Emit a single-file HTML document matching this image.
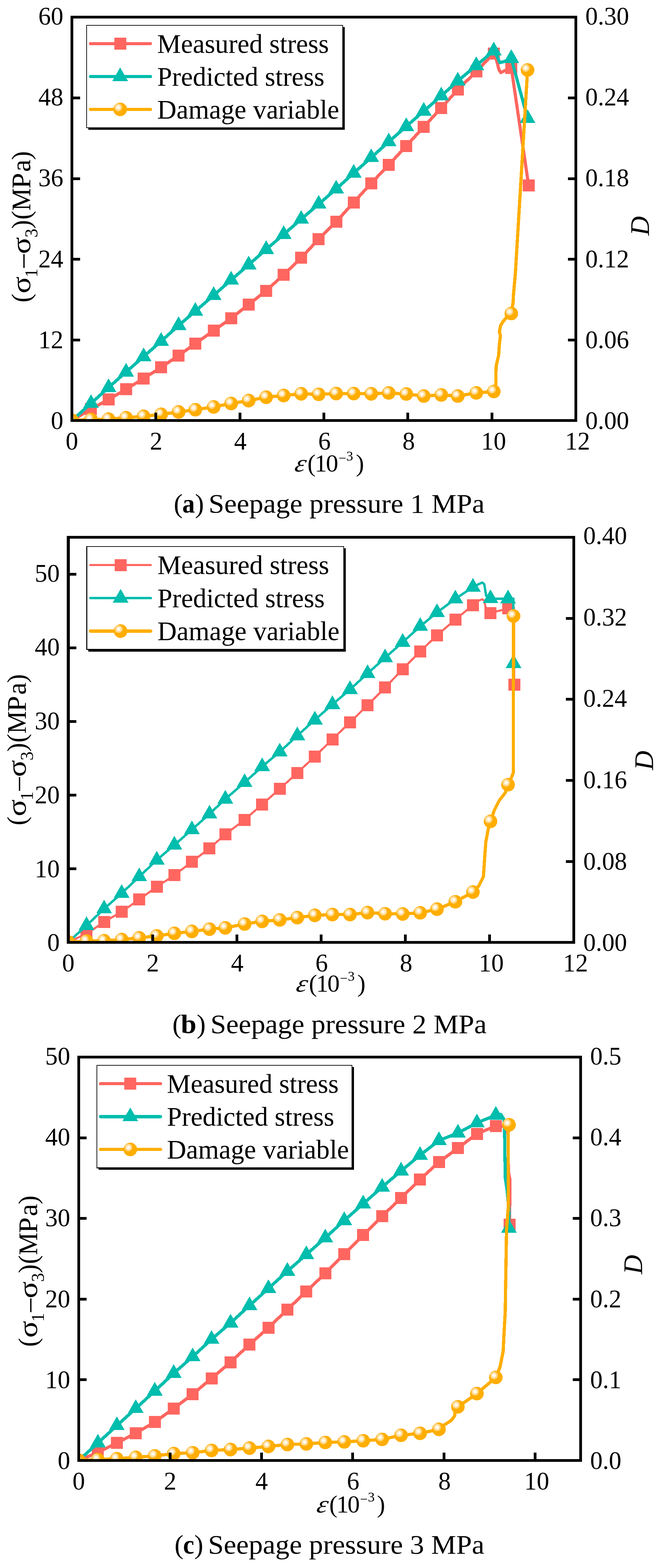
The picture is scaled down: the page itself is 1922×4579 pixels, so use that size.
<!DOCTYPE html>
<html lang="en">
<head>
<meta charset="utf-8">
<title>Stress-strain curves and damage variable under different seepage pressures</title>
<style>
html,body{margin:0;padding:0;background:#fff;}
body{width:1922px;height:4579px;overflow:hidden;}
svg{display:block;}
text{font-family:'Liberation Serif', 'DejaVu Serif', serif;fill:#000;}
.tk text{font-size:73px;}
.lg{font-size:78.2px;}
</style>
</head>
<body>
<svg width="1922" height="4579" viewBox="0 0 1922 4579" shape-rendering="crispEdges">
<rect width="1922" height="4579" fill="#fff"/>
<g id="chart-a">
<clipPath id="clip-a"><rect x="210" y="50" width="1472" height="1178"/></clipPath>
<g clip-path="url(#clip-a)">
<g fill="#FF6660">
<polyline points="210.5,1227.6 265.9,1194.5 317.1,1166.8 368.2,1136.7 419.4,1105.3 470.6,1072.9 521.7,1038.2 570.6,1003.5 624,965.6 675.1,929.5 726.3,889.3 777.5,849 828.6,802.3 879.8,752.9 930.9,698.3 982,647.5 1033.2,591 1084.3,535 1135.5,481.6 1186.7,426.1 1237.8,370.6 1288.9,315.1 1337.2,261.9 1391.2,208.7 1442.4,156.4 1450,175 1458,205 1463,212 1475,206 1493.5,198 1544,541" fill="none" stroke="#FF6660" stroke-width="9.2" stroke-linejoin="round" stroke-linecap="round"/>
<rect x="193" y="1210.1" width="35" height="35"/>
<rect x="248.4" y="1177" width="35" height="35"/>
<rect x="299.6" y="1149.3" width="35" height="35"/>
<rect x="350.8" y="1119.2" width="35" height="35"/>
<rect x="401.9" y="1087.8" width="35" height="35"/>
<rect x="453.1" y="1055.4" width="35" height="35"/>
<rect x="504.2" y="1020.7" width="35" height="35"/>
<rect x="553.1" y="986" width="35" height="35"/>
<rect x="606.5" y="948.1" width="35" height="35"/>
<rect x="657.6" y="912" width="35" height="35"/>
<rect x="708.8" y="871.8" width="35" height="35"/>
<rect x="760" y="831.5" width="35" height="35"/>
<rect x="811.1" y="784.8" width="35" height="35"/>
<rect x="862.2" y="735.4" width="35" height="35"/>
<rect x="913.4" y="680.8" width="35" height="35"/>
<rect x="964.5" y="630" width="35" height="35"/>
<rect x="1015.7" y="573.5" width="35" height="35"/>
<rect x="1066.8" y="517.5" width="35" height="35"/>
<rect x="1118" y="464.1" width="35" height="35"/>
<rect x="1169.2" y="408.6" width="35" height="35"/>
<rect x="1220.3" y="353.1" width="35" height="35"/>
<rect x="1271.4" y="297.6" width="35" height="35"/>
<rect x="1319.7" y="244.4" width="35" height="35"/>
<rect x="1373.8" y="191.2" width="35" height="35"/>
<rect x="1424.9" y="138.9" width="35" height="35"/>
<rect x="1476" y="180.5" width="35" height="35"/>
<rect x="1526.5" y="523.5" width="35" height="35"/>
</g>
<g fill="#00BDAD">
<polyline points="210.5,1227.6 265.9,1178 317.1,1131.7 368.2,1086.3 419.4,1041.5 470.6,996.6 521.7,950.4 570.6,908.7 624,862.5 675.1,817.6 726.3,773.3 777.5,728.4 828.6,684.5 879.8,640.1 930.9,596.1 982,551.7 1033.2,505.5 1084.3,460 1135.5,414.1 1186.7,369.2 1237.8,324.4 1288.9,280 1337.2,236.5 1391.2,191.2 1442.4,148.4 1452,165 1460,183 1472,180 1493.5,170.5 1541,345.8" fill="none" stroke="#00BDAD" stroke-width="9.2" stroke-linejoin="round" stroke-linecap="round"/>
<polygon points="210.5,1200.9 187.5,1240.9 233.5,1240.9"/>
<polygon points="265.9,1151.3 242.9,1191.3 288.9,1191.3"/>
<polygon points="317.1,1105 294.1,1145 340.1,1145"/>
<polygon points="368.2,1059.6 345.2,1099.6 391.2,1099.6"/>
<polygon points="419.4,1014.8 396.4,1054.8 442.4,1054.8"/>
<polygon points="470.6,969.9 447.6,1009.9 493.6,1009.9"/>
<polygon points="521.7,923.7 498.7,963.7 544.7,963.7"/>
<polygon points="570.6,882 547.6,922 593.6,922"/>
<polygon points="624,835.8 601,875.8 647,875.8"/>
<polygon points="675.1,790.9 652.1,830.9 698.1,830.9"/>
<polygon points="726.3,746.6 703.3,786.6 749.3,786.6"/>
<polygon points="777.5,701.7 754.5,741.7 800.5,741.7"/>
<polygon points="828.6,657.8 805.6,697.8 851.6,697.8"/>
<polygon points="879.8,613.4 856.8,653.4 902.8,653.4"/>
<polygon points="930.9,569.4 907.9,609.4 953.9,609.4"/>
<polygon points="982,525 959,565 1005,565"/>
<polygon points="1033.2,478.8 1010.2,518.8 1056.2,518.8"/>
<polygon points="1084.3,433.3 1061.3,473.3 1107.3,473.3"/>
<polygon points="1135.5,387.4 1112.5,427.4 1158.5,427.4"/>
<polygon points="1186.7,342.5 1163.7,382.5 1209.7,382.5"/>
<polygon points="1237.8,297.7 1214.8,337.7 1260.8,337.7"/>
<polygon points="1288.9,253.3 1265.9,293.3 1311.9,293.3"/>
<polygon points="1337.2,209.8 1314.2,249.8 1360.2,249.8"/>
<polygon points="1391.2,164.5 1368.2,204.5 1414.2,204.5"/>
<polygon points="1442.4,121.7 1419.4,161.7 1465.4,161.7"/>
<polygon points="1493.5,143.8 1470.5,183.8 1516.5,183.8"/>
<polygon points="1541,319.1 1518,359.1 1564,359.1"/>
</g>
<g fill="#FFAE00">
<polyline points="210.5,1227.6 265.9,1225 317.1,1224 368.2,1220 419.4,1215.7 470.6,1210 521.7,1203 570.6,1196.6 624,1188.3 675.1,1178.3 726.3,1169.9 777.5,1160 828.6,1155 879.8,1150 930.9,1151.6 982,1149.3 1033.2,1149.3 1084.3,1150 1135.5,1147.6 1186.7,1150.6 1237.8,1156.6 1288.9,1153.3 1337.2,1156.6 1391.2,1147.3 1442.4,1143.3 1448.4,1122 1448.8,1082 1449.3,1068.7 1453.3,1051 1456.6,1037.6 1458.8,1004.3 1461.7,979.9 1458.8,968.8 1462.1,951 1468.8,939.9 1477.7,928.8 1493.5,915.6 1498.8,882.2 1499.9,860 1505.3,800 1541,204.3" fill="none" stroke="#FFAE00" stroke-width="9.4" stroke-linejoin="round" stroke-linecap="round"/>
<g transform="translate(210.5 1227.6)"><circle r="19.9"/><circle cx="-5.5" cy="-5.8" r="11.3" fill="#FFD27A"/><circle cx="-5.5" cy="-5.8" r="7.6" fill="#FFEABF"/><circle cx="-5.2" cy="-5.8" r="3.9" fill="#FFFDF8"/></g>
<g transform="translate(265.9 1225)"><circle r="19.9"/><circle cx="-5.5" cy="-5.8" r="11.3" fill="#FFD27A"/><circle cx="-5.5" cy="-5.8" r="7.6" fill="#FFEABF"/><circle cx="-5.2" cy="-5.8" r="3.9" fill="#FFFDF8"/></g>
<g transform="translate(317.1 1224)"><circle r="19.9"/><circle cx="-5.5" cy="-5.8" r="11.3" fill="#FFD27A"/><circle cx="-5.5" cy="-5.8" r="7.6" fill="#FFEABF"/><circle cx="-5.2" cy="-5.8" r="3.9" fill="#FFFDF8"/></g>
<g transform="translate(368.2 1220)"><circle r="19.9"/><circle cx="-5.5" cy="-5.8" r="11.3" fill="#FFD27A"/><circle cx="-5.5" cy="-5.8" r="7.6" fill="#FFEABF"/><circle cx="-5.2" cy="-5.8" r="3.9" fill="#FFFDF8"/></g>
<g transform="translate(419.4 1215.7)"><circle r="19.9"/><circle cx="-5.5" cy="-5.8" r="11.3" fill="#FFD27A"/><circle cx="-5.5" cy="-5.8" r="7.6" fill="#FFEABF"/><circle cx="-5.2" cy="-5.8" r="3.9" fill="#FFFDF8"/></g>
<g transform="translate(470.6 1210)"><circle r="19.9"/><circle cx="-5.5" cy="-5.8" r="11.3" fill="#FFD27A"/><circle cx="-5.5" cy="-5.8" r="7.6" fill="#FFEABF"/><circle cx="-5.2" cy="-5.8" r="3.9" fill="#FFFDF8"/></g>
<g transform="translate(521.7 1203)"><circle r="19.9"/><circle cx="-5.5" cy="-5.8" r="11.3" fill="#FFD27A"/><circle cx="-5.5" cy="-5.8" r="7.6" fill="#FFEABF"/><circle cx="-5.2" cy="-5.8" r="3.9" fill="#FFFDF8"/></g>
<g transform="translate(570.6 1196.6)"><circle r="19.9"/><circle cx="-5.5" cy="-5.8" r="11.3" fill="#FFD27A"/><circle cx="-5.5" cy="-5.8" r="7.6" fill="#FFEABF"/><circle cx="-5.2" cy="-5.8" r="3.9" fill="#FFFDF8"/></g>
<g transform="translate(624 1188.3)"><circle r="19.9"/><circle cx="-5.5" cy="-5.8" r="11.3" fill="#FFD27A"/><circle cx="-5.5" cy="-5.8" r="7.6" fill="#FFEABF"/><circle cx="-5.2" cy="-5.8" r="3.9" fill="#FFFDF8"/></g>
<g transform="translate(675.1 1178.3)"><circle r="19.9"/><circle cx="-5.5" cy="-5.8" r="11.3" fill="#FFD27A"/><circle cx="-5.5" cy="-5.8" r="7.6" fill="#FFEABF"/><circle cx="-5.2" cy="-5.8" r="3.9" fill="#FFFDF8"/></g>
<g transform="translate(726.3 1169.9)"><circle r="19.9"/><circle cx="-5.5" cy="-5.8" r="11.3" fill="#FFD27A"/><circle cx="-5.5" cy="-5.8" r="7.6" fill="#FFEABF"/><circle cx="-5.2" cy="-5.8" r="3.9" fill="#FFFDF8"/></g>
<g transform="translate(777.5 1160)"><circle r="19.9"/><circle cx="-5.5" cy="-5.8" r="11.3" fill="#FFD27A"/><circle cx="-5.5" cy="-5.8" r="7.6" fill="#FFEABF"/><circle cx="-5.2" cy="-5.8" r="3.9" fill="#FFFDF8"/></g>
<g transform="translate(828.6 1155)"><circle r="19.9"/><circle cx="-5.5" cy="-5.8" r="11.3" fill="#FFD27A"/><circle cx="-5.5" cy="-5.8" r="7.6" fill="#FFEABF"/><circle cx="-5.2" cy="-5.8" r="3.9" fill="#FFFDF8"/></g>
<g transform="translate(879.8 1150)"><circle r="19.9"/><circle cx="-5.5" cy="-5.8" r="11.3" fill="#FFD27A"/><circle cx="-5.5" cy="-5.8" r="7.6" fill="#FFEABF"/><circle cx="-5.2" cy="-5.8" r="3.9" fill="#FFFDF8"/></g>
<g transform="translate(930.9 1151.6)"><circle r="19.9"/><circle cx="-5.5" cy="-5.8" r="11.3" fill="#FFD27A"/><circle cx="-5.5" cy="-5.8" r="7.6" fill="#FFEABF"/><circle cx="-5.2" cy="-5.8" r="3.9" fill="#FFFDF8"/></g>
<g transform="translate(982 1149.3)"><circle r="19.9"/><circle cx="-5.5" cy="-5.8" r="11.3" fill="#FFD27A"/><circle cx="-5.5" cy="-5.8" r="7.6" fill="#FFEABF"/><circle cx="-5.2" cy="-5.8" r="3.9" fill="#FFFDF8"/></g>
<g transform="translate(1033.2 1149.3)"><circle r="19.9"/><circle cx="-5.5" cy="-5.8" r="11.3" fill="#FFD27A"/><circle cx="-5.5" cy="-5.8" r="7.6" fill="#FFEABF"/><circle cx="-5.2" cy="-5.8" r="3.9" fill="#FFFDF8"/></g>
<g transform="translate(1084.3 1150)"><circle r="19.9"/><circle cx="-5.5" cy="-5.8" r="11.3" fill="#FFD27A"/><circle cx="-5.5" cy="-5.8" r="7.6" fill="#FFEABF"/><circle cx="-5.2" cy="-5.8" r="3.9" fill="#FFFDF8"/></g>
<g transform="translate(1135.5 1147.6)"><circle r="19.9"/><circle cx="-5.5" cy="-5.8" r="11.3" fill="#FFD27A"/><circle cx="-5.5" cy="-5.8" r="7.6" fill="#FFEABF"/><circle cx="-5.2" cy="-5.8" r="3.9" fill="#FFFDF8"/></g>
<g transform="translate(1186.7 1150.6)"><circle r="19.9"/><circle cx="-5.5" cy="-5.8" r="11.3" fill="#FFD27A"/><circle cx="-5.5" cy="-5.8" r="7.6" fill="#FFEABF"/><circle cx="-5.2" cy="-5.8" r="3.9" fill="#FFFDF8"/></g>
<g transform="translate(1237.8 1156.6)"><circle r="19.9"/><circle cx="-5.5" cy="-5.8" r="11.3" fill="#FFD27A"/><circle cx="-5.5" cy="-5.8" r="7.6" fill="#FFEABF"/><circle cx="-5.2" cy="-5.8" r="3.9" fill="#FFFDF8"/></g>
<g transform="translate(1288.9 1153.3)"><circle r="19.9"/><circle cx="-5.5" cy="-5.8" r="11.3" fill="#FFD27A"/><circle cx="-5.5" cy="-5.8" r="7.6" fill="#FFEABF"/><circle cx="-5.2" cy="-5.8" r="3.9" fill="#FFFDF8"/></g>
<g transform="translate(1337.2 1156.6)"><circle r="19.9"/><circle cx="-5.5" cy="-5.8" r="11.3" fill="#FFD27A"/><circle cx="-5.5" cy="-5.8" r="7.6" fill="#FFEABF"/><circle cx="-5.2" cy="-5.8" r="3.9" fill="#FFFDF8"/></g>
<g transform="translate(1391.2 1147.3)"><circle r="19.9"/><circle cx="-5.5" cy="-5.8" r="11.3" fill="#FFD27A"/><circle cx="-5.5" cy="-5.8" r="7.6" fill="#FFEABF"/><circle cx="-5.2" cy="-5.8" r="3.9" fill="#FFFDF8"/></g>
<g transform="translate(1442.4 1143.3)"><circle r="19.9"/><circle cx="-5.5" cy="-5.8" r="11.3" fill="#FFD27A"/><circle cx="-5.5" cy="-5.8" r="7.6" fill="#FFEABF"/><circle cx="-5.2" cy="-5.8" r="3.9" fill="#FFFDF8"/></g>
<g transform="translate(1493.5 915.6)"><circle r="19.9"/><circle cx="-5.5" cy="-5.8" r="11.3" fill="#FFD27A"/><circle cx="-5.5" cy="-5.8" r="7.6" fill="#FFEABF"/><circle cx="-5.2" cy="-5.8" r="3.9" fill="#FFFDF8"/></g>
<g transform="translate(1541 204.3)"><circle r="19.9"/><circle cx="-5.5" cy="-5.8" r="11.3" fill="#FFD27A"/><circle cx="-5.5" cy="-5.8" r="7.6" fill="#FFEABF"/><circle cx="-5.2" cy="-5.8" r="3.9" fill="#FFFDF8"/></g>
</g>
</g>
<rect x="258" y="79" width="749" height="300" fill="#000"/>
<rect x="252" y="73" width="750" height="301" fill="#000"/>
<rect x="254" y="75" width="746" height="297" fill="#fff"/>
<g fill="#FF6660">
<polyline points="264,127.3 439.5,127.3" fill="none" stroke="#FF6660" stroke-width="9.2" stroke-linejoin="round" stroke-linecap="round"/>
<rect x="333.5" y="109.8" width="35" height="35"/>
</g>
<text x="459" y="153.6" class="lg">Measured stress</text>
<g fill="#00BDAD">
<polyline points="264,223.5 439.5,223.5" fill="none" stroke="#00BDAD" stroke-width="9.2" stroke-linejoin="round" stroke-linecap="round"/>
<polygon points="351,196.8 328,236.8 374,236.8"/>
</g>
<text x="459" y="249.8" class="lg">Predicted stress</text>
<g fill="#FFAE00">
<polyline points="264,319.4 439.5,319.4" fill="none" stroke="#FFAE00" stroke-width="9.4" stroke-linejoin="round" stroke-linecap="round"/>
<g transform="translate(351 319.4)"><circle r="19.9"/><circle cx="-5.5" cy="-5.8" r="11.3" fill="#FFD27A"/><circle cx="-5.5" cy="-5.8" r="7.6" fill="#FFEABF"/><circle cx="-5.2" cy="-5.8" r="3.9" fill="#FFFDF8"/></g>
</g>
<text x="459" y="345.7" class="lg">Damage variable</text>
<g fill="#000">
<rect x="206" y="46" width="8" height="1186"/>
<rect x="1678" y="46" width="8" height="1186"/>
<rect x="206" y="46" width="1480" height="8"/>
<rect x="206" y="1224" width="1480" height="8"/>
<rect x="451" y="1205" width="8" height="19"/>
<rect x="697" y="1205" width="8" height="19"/>
<rect x="942" y="1205" width="8" height="19"/>
<rect x="1187" y="1205" width="8" height="19"/>
<rect x="1433" y="1205" width="8" height="19"/>
<rect x="214" y="989" width="20" height="8"/>
<rect x="214" y="753" width="20" height="8"/>
<rect x="214" y="518" width="20" height="8"/>
<rect x="214" y="282" width="20" height="8"/>
<rect x="1659" y="989" width="19" height="8"/>
<rect x="1659" y="753" width="19" height="8"/>
<rect x="1659" y="518" width="19" height="8"/>
<rect x="1659" y="282" width="19" height="8"/>
</g>
<g class="tk">
<text x="210" y="1313" text-anchor="middle">0</text>
<text x="455.9" y="1313" text-anchor="middle">2</text>
<text x="701.9" y="1313" text-anchor="middle">4</text>
<text x="947.8" y="1313" text-anchor="middle">6</text>
<text x="1193.7" y="1313" text-anchor="middle">8</text>
<text x="1441.7" y="1313" text-anchor="middle">10</text>
<text x="1687" y="1313" text-anchor="middle">12</text>
<text x="185" y="1253.4" text-anchor="end">0</text>
<text x="185" y="1017.1" text-anchor="end">12</text>
<text x="185" y="780.8" text-anchor="end">24</text>
<text x="185" y="544.4" text-anchor="end">36</text>
<text x="185" y="308.1" text-anchor="end">48</text>
<text x="185" y="71.8" text-anchor="end">60</text>
<text x="1709.8" y="1253.4">0.00</text>
<text x="1709.8" y="1017.1">0.06</text>
<text x="1709.8" y="780.8">0.12</text>
<text x="1709.8" y="544.4">0.18</text>
<text x="1709.8" y="308.1">0.24</text>
<text x="1709.8" y="71.8">0.30</text>
</g>
<text class="ytitle" transform="translate(88.2 880) rotate(-90)"><tspan x="-3.4" y="0" font-size="78.2">(</tspan><tspan x="23" y="0" font-size="78.2" textLength="49.71" lengthAdjust="spacingAndGlyphs">σ</tspan><tspan x="69.7" y="20.5" font-size="52.4">1</tspan><tspan x="98.2" y="0" font-size="78.2">–</tspan><tspan x="138" y="0" font-size="78.2" textLength="49.71" lengthAdjust="spacingAndGlyphs">σ</tspan><tspan x="186.3" y="20.5" font-size="52.4">3</tspan><tspan x="211.8" y="0" font-size="78.2">)</tspan><tspan x="238.4" y="0" font-size="78.2">(</tspan><tspan x="264.6" y="0" font-size="78.2" textLength="66.06" lengthAdjust="spacingAndGlyphs">M</tspan><tspan x="328.9" y="0" font-size="78.2" textLength="46.10" lengthAdjust="spacingAndGlyphs">P</tspan><tspan x="378.1" y="0" font-size="78.2" textLength="36.10" lengthAdjust="spacingAndGlyphs">a</tspan><tspan x="412.7" y="0" font-size="78.2">)</tspan></text>
<g class="xtitle">
<text transform="translate(857.9 1377.2) skewX(-13) scale(1.1 1)" font-size="72" font-style="italic">ε</text>
<text><tspan x="897.9" y="1377.2" font-size="72">(</tspan><tspan x="918.9" y="1377.2" font-size="72">1</tspan><tspan x="952" y="1377.2" font-size="72">0</tspan><tspan x="988.7" y="1351.2" font-size="40">−</tspan><tspan x="1011.6" y="1345.2" font-size="40">3</tspan><tspan x="1039.5" y="1377.2" font-size="72">)</tspan></text>
</g>
<g class="rtitle" transform="translate(1894.8 688.7) rotate(-90)"><text x="0.9" y="0" font-size="78.2" font-style="italic">D</text></g>
<text class="cap"><tspan x="507.6" y="1497" font-size="79">(</tspan><tspan x="532.6" y="1497" font-size="79" font-weight="bold" textLength="36.56" lengthAdjust="spacingAndGlyphs">a</tspan><tspan x="569.6" y="1497" font-size="79">) </tspan><tspan x="609.3" y="1497" font-size="79" textLength="806.23" lengthAdjust="spacingAndGlyphs">Seepage pressure 1 MPa</tspan></text>
</g>
<g id="chart-b">
<clipPath id="clip-b"><rect x="199.6" y="1569" width="1476.4" height="1183"/></clipPath>
<g clip-path="url(#clip-b)">
<g fill="#FF6660">
<polyline points="199.6,2751.1 252.8,2727 304.1,2692.3 355.4,2662.3 406.7,2626.7 458,2589.7 509.3,2555.9 560.6,2516.6 611.9,2477.3 658.2,2436.6 714.5,2394 765.8,2349.1 817.1,2303.8 868.4,2257.1 919.7,2209 971,2159 1022.3,2109.5 1073.6,2059.6 1124.9,2007.8 1176.2,1954.2 1227.5,1902.1 1276.4,1855.4 1330.1,1809.1 1381.4,1767.3 1400,1753 1409,1750.3 1414.7,1754.7 1418.4,1773.2 1432.7,1790.2 1484,1776.9 1501,1775 1502.5,1999.5" fill="none" stroke="#FF6660" stroke-width="6" stroke-linejoin="round" stroke-linecap="round"/>
<rect x="182.1" y="2733.6" width="35" height="35"/>
<rect x="235.3" y="2709.5" width="35" height="35"/>
<rect x="286.6" y="2674.8" width="35" height="35"/>
<rect x="337.9" y="2644.8" width="35" height="35"/>
<rect x="389.2" y="2609.2" width="35" height="35"/>
<rect x="440.5" y="2572.2" width="35" height="35"/>
<rect x="491.8" y="2538.4" width="35" height="35"/>
<rect x="543.1" y="2499.1" width="35" height="35"/>
<rect x="594.4" y="2459.8" width="35" height="35"/>
<rect x="640.7" y="2419.1" width="35" height="35"/>
<rect x="697" y="2376.5" width="35" height="35"/>
<rect x="748.3" y="2331.6" width="35" height="35"/>
<rect x="799.6" y="2286.3" width="35" height="35"/>
<rect x="850.9" y="2239.6" width="35" height="35"/>
<rect x="902.2" y="2191.5" width="35" height="35"/>
<rect x="953.5" y="2141.5" width="35" height="35"/>
<rect x="1004.8" y="2092" width="35" height="35"/>
<rect x="1056.1" y="2042.1" width="35" height="35"/>
<rect x="1107.4" y="1990.3" width="35" height="35"/>
<rect x="1158.7" y="1936.7" width="35" height="35"/>
<rect x="1210" y="1884.6" width="35" height="35"/>
<rect x="1258.9" y="1837.9" width="35" height="35"/>
<rect x="1312.6" y="1791.6" width="35" height="35"/>
<rect x="1363.9" y="1749.8" width="35" height="35"/>
<rect x="1415.2" y="1772.7" width="35" height="35"/>
<rect x="1466.5" y="1759.4" width="35" height="35"/>
<rect x="1485" y="1982" width="35" height="35"/>
</g>
<g fill="#00BDAD">
<polyline points="199.6,2751.1 252.8,2702.6 304.1,2654 355.4,2608.7 406.7,2560.1 458,2511.5 509.3,2467.6 560.6,2422.7 611.9,2376.9 658.2,2333.4 714.5,2284.9 765.8,2238.6 817.1,2195.6 868.4,2148.4 919.7,2102.2 971,2057.3 1022.3,2013.4 1073.6,1966.8 1124.9,1920.7 1176.2,1875.4 1227.5,1829.1 1276.4,1788.7 1330.1,1748.8 1381.4,1714.5 1394,1708 1409,1701 1414.7,1706.6 1420,1740 1432.7,1747.9 1484,1748.4 1499.8,1748 1500,1937.6" fill="none" stroke="#00BDAD" stroke-width="7" stroke-linejoin="round" stroke-linecap="round"/>
<polygon points="199.6,2724.4 176.6,2764.4 222.6,2764.4"/>
<polygon points="252.8,2675.9 229.8,2715.9 275.8,2715.9"/>
<polygon points="304.1,2627.3 281.1,2667.3 327.1,2667.3"/>
<polygon points="355.4,2582 332.4,2622 378.4,2622"/>
<polygon points="406.7,2533.4 383.7,2573.4 429.7,2573.4"/>
<polygon points="458,2484.8 435,2524.8 481,2524.8"/>
<polygon points="509.3,2440.9 486.3,2480.9 532.3,2480.9"/>
<polygon points="560.6,2396 537.6,2436 583.6,2436"/>
<polygon points="611.9,2350.2 588.9,2390.2 634.9,2390.2"/>
<polygon points="658.2,2306.7 635.2,2346.7 681.2,2346.7"/>
<polygon points="714.5,2258.2 691.5,2298.2 737.5,2298.2"/>
<polygon points="765.8,2211.9 742.8,2251.9 788.8,2251.9"/>
<polygon points="817.1,2168.9 794.1,2208.9 840.1,2208.9"/>
<polygon points="868.4,2121.7 845.4,2161.7 891.4,2161.7"/>
<polygon points="919.7,2075.5 896.7,2115.5 942.7,2115.5"/>
<polygon points="971,2030.6 948,2070.6 994,2070.6"/>
<polygon points="1022.3,1986.7 999.3,2026.7 1045.3,2026.7"/>
<polygon points="1073.6,1940.1 1050.6,1980.1 1096.6,1980.1"/>
<polygon points="1124.9,1894 1101.9,1934 1147.9,1934"/>
<polygon points="1176.2,1848.7 1153.2,1888.7 1199.2,1888.7"/>
<polygon points="1227.5,1802.4 1204.5,1842.4 1250.5,1842.4"/>
<polygon points="1276.4,1762 1253.4,1802 1299.4,1802"/>
<polygon points="1330.1,1722.1 1307.1,1762.1 1353.1,1762.1"/>
<polygon points="1381.4,1687.8 1358.4,1727.8 1404.4,1727.8"/>
<polygon points="1432.7,1721.2 1409.7,1761.2 1455.7,1761.2"/>
<polygon points="1484,1721.7 1461,1761.7 1507,1761.7"/>
<polygon points="1500,1910.9 1477,1950.9 1523,1950.9"/>
</g>
<g fill="#FFAE00">
<polyline points="199.6,2751.1 252.8,2748.2 304.1,2747.2 355.4,2743.9 406.7,2738.9 458,2733.2 509.3,2725.6 560.6,2720 611.9,2713.4 658.2,2709.7 714.5,2698.4 765.8,2690.7 817.1,2686.4 868.4,2679.8 919.7,2673.1 971,2670.8 1022.3,2670.8 1073.6,2665.1 1124.9,2668.4 1176.2,2669.1 1227.5,2665.7 1276.4,2655 1330.1,2633.4 1381.4,2605.1 1398,2588 1412,2560 1415.7,2505 1419,2459 1426,2422 1432.7,2398.6 1444,2366 1458,2338 1476,2315 1484,2291.6 1495,2268 1499.6,2256 1500,1799.1" fill="none" stroke="#FFAE00" stroke-width="9.3" stroke-linejoin="round" stroke-linecap="round"/>
<g transform="translate(199.6 2751.1)"><circle r="19.9"/><circle cx="-5.5" cy="-5.8" r="11.3" fill="#FFD27A"/><circle cx="-5.5" cy="-5.8" r="7.6" fill="#FFEABF"/><circle cx="-5.2" cy="-5.8" r="3.9" fill="#FFFDF8"/></g>
<g transform="translate(252.8 2748.2)"><circle r="19.9"/><circle cx="-5.5" cy="-5.8" r="11.3" fill="#FFD27A"/><circle cx="-5.5" cy="-5.8" r="7.6" fill="#FFEABF"/><circle cx="-5.2" cy="-5.8" r="3.9" fill="#FFFDF8"/></g>
<g transform="translate(304.1 2747.2)"><circle r="19.9"/><circle cx="-5.5" cy="-5.8" r="11.3" fill="#FFD27A"/><circle cx="-5.5" cy="-5.8" r="7.6" fill="#FFEABF"/><circle cx="-5.2" cy="-5.8" r="3.9" fill="#FFFDF8"/></g>
<g transform="translate(355.4 2743.9)"><circle r="19.9"/><circle cx="-5.5" cy="-5.8" r="11.3" fill="#FFD27A"/><circle cx="-5.5" cy="-5.8" r="7.6" fill="#FFEABF"/><circle cx="-5.2" cy="-5.8" r="3.9" fill="#FFFDF8"/></g>
<g transform="translate(406.7 2738.9)"><circle r="19.9"/><circle cx="-5.5" cy="-5.8" r="11.3" fill="#FFD27A"/><circle cx="-5.5" cy="-5.8" r="7.6" fill="#FFEABF"/><circle cx="-5.2" cy="-5.8" r="3.9" fill="#FFFDF8"/></g>
<g transform="translate(458 2733.2)"><circle r="19.9"/><circle cx="-5.5" cy="-5.8" r="11.3" fill="#FFD27A"/><circle cx="-5.5" cy="-5.8" r="7.6" fill="#FFEABF"/><circle cx="-5.2" cy="-5.8" r="3.9" fill="#FFFDF8"/></g>
<g transform="translate(509.3 2725.6)"><circle r="19.9"/><circle cx="-5.5" cy="-5.8" r="11.3" fill="#FFD27A"/><circle cx="-5.5" cy="-5.8" r="7.6" fill="#FFEABF"/><circle cx="-5.2" cy="-5.8" r="3.9" fill="#FFFDF8"/></g>
<g transform="translate(560.6 2720)"><circle r="19.9"/><circle cx="-5.5" cy="-5.8" r="11.3" fill="#FFD27A"/><circle cx="-5.5" cy="-5.8" r="7.6" fill="#FFEABF"/><circle cx="-5.2" cy="-5.8" r="3.9" fill="#FFFDF8"/></g>
<g transform="translate(611.9 2713.4)"><circle r="19.9"/><circle cx="-5.5" cy="-5.8" r="11.3" fill="#FFD27A"/><circle cx="-5.5" cy="-5.8" r="7.6" fill="#FFEABF"/><circle cx="-5.2" cy="-5.8" r="3.9" fill="#FFFDF8"/></g>
<g transform="translate(658.2 2709.7)"><circle r="19.9"/><circle cx="-5.5" cy="-5.8" r="11.3" fill="#FFD27A"/><circle cx="-5.5" cy="-5.8" r="7.6" fill="#FFEABF"/><circle cx="-5.2" cy="-5.8" r="3.9" fill="#FFFDF8"/></g>
<g transform="translate(714.5 2698.4)"><circle r="19.9"/><circle cx="-5.5" cy="-5.8" r="11.3" fill="#FFD27A"/><circle cx="-5.5" cy="-5.8" r="7.6" fill="#FFEABF"/><circle cx="-5.2" cy="-5.8" r="3.9" fill="#FFFDF8"/></g>
<g transform="translate(765.8 2690.7)"><circle r="19.9"/><circle cx="-5.5" cy="-5.8" r="11.3" fill="#FFD27A"/><circle cx="-5.5" cy="-5.8" r="7.6" fill="#FFEABF"/><circle cx="-5.2" cy="-5.8" r="3.9" fill="#FFFDF8"/></g>
<g transform="translate(817.1 2686.4)"><circle r="19.9"/><circle cx="-5.5" cy="-5.8" r="11.3" fill="#FFD27A"/><circle cx="-5.5" cy="-5.8" r="7.6" fill="#FFEABF"/><circle cx="-5.2" cy="-5.8" r="3.9" fill="#FFFDF8"/></g>
<g transform="translate(868.4 2679.8)"><circle r="19.9"/><circle cx="-5.5" cy="-5.8" r="11.3" fill="#FFD27A"/><circle cx="-5.5" cy="-5.8" r="7.6" fill="#FFEABF"/><circle cx="-5.2" cy="-5.8" r="3.9" fill="#FFFDF8"/></g>
<g transform="translate(919.7 2673.1)"><circle r="19.9"/><circle cx="-5.5" cy="-5.8" r="11.3" fill="#FFD27A"/><circle cx="-5.5" cy="-5.8" r="7.6" fill="#FFEABF"/><circle cx="-5.2" cy="-5.8" r="3.9" fill="#FFFDF8"/></g>
<g transform="translate(971 2670.8)"><circle r="19.9"/><circle cx="-5.5" cy="-5.8" r="11.3" fill="#FFD27A"/><circle cx="-5.5" cy="-5.8" r="7.6" fill="#FFEABF"/><circle cx="-5.2" cy="-5.8" r="3.9" fill="#FFFDF8"/></g>
<g transform="translate(1022.3 2670.8)"><circle r="19.9"/><circle cx="-5.5" cy="-5.8" r="11.3" fill="#FFD27A"/><circle cx="-5.5" cy="-5.8" r="7.6" fill="#FFEABF"/><circle cx="-5.2" cy="-5.8" r="3.9" fill="#FFFDF8"/></g>
<g transform="translate(1073.6 2665.1)"><circle r="19.9"/><circle cx="-5.5" cy="-5.8" r="11.3" fill="#FFD27A"/><circle cx="-5.5" cy="-5.8" r="7.6" fill="#FFEABF"/><circle cx="-5.2" cy="-5.8" r="3.9" fill="#FFFDF8"/></g>
<g transform="translate(1124.9 2668.4)"><circle r="19.9"/><circle cx="-5.5" cy="-5.8" r="11.3" fill="#FFD27A"/><circle cx="-5.5" cy="-5.8" r="7.6" fill="#FFEABF"/><circle cx="-5.2" cy="-5.8" r="3.9" fill="#FFFDF8"/></g>
<g transform="translate(1176.2 2669.1)"><circle r="19.9"/><circle cx="-5.5" cy="-5.8" r="11.3" fill="#FFD27A"/><circle cx="-5.5" cy="-5.8" r="7.6" fill="#FFEABF"/><circle cx="-5.2" cy="-5.8" r="3.9" fill="#FFFDF8"/></g>
<g transform="translate(1227.5 2665.7)"><circle r="19.9"/><circle cx="-5.5" cy="-5.8" r="11.3" fill="#FFD27A"/><circle cx="-5.5" cy="-5.8" r="7.6" fill="#FFEABF"/><circle cx="-5.2" cy="-5.8" r="3.9" fill="#FFFDF8"/></g>
<g transform="translate(1276.4 2655)"><circle r="19.9"/><circle cx="-5.5" cy="-5.8" r="11.3" fill="#FFD27A"/><circle cx="-5.5" cy="-5.8" r="7.6" fill="#FFEABF"/><circle cx="-5.2" cy="-5.8" r="3.9" fill="#FFFDF8"/></g>
<g transform="translate(1330.1 2633.4)"><circle r="19.9"/><circle cx="-5.5" cy="-5.8" r="11.3" fill="#FFD27A"/><circle cx="-5.5" cy="-5.8" r="7.6" fill="#FFEABF"/><circle cx="-5.2" cy="-5.8" r="3.9" fill="#FFFDF8"/></g>
<g transform="translate(1381.4 2605.1)"><circle r="19.9"/><circle cx="-5.5" cy="-5.8" r="11.3" fill="#FFD27A"/><circle cx="-5.5" cy="-5.8" r="7.6" fill="#FFEABF"/><circle cx="-5.2" cy="-5.8" r="3.9" fill="#FFFDF8"/></g>
<g transform="translate(1432.7 2398.6)"><circle r="19.9"/><circle cx="-5.5" cy="-5.8" r="11.3" fill="#FFD27A"/><circle cx="-5.5" cy="-5.8" r="7.6" fill="#FFEABF"/><circle cx="-5.2" cy="-5.8" r="3.9" fill="#FFFDF8"/></g>
<g transform="translate(1484 2291.6)"><circle r="19.9"/><circle cx="-5.5" cy="-5.8" r="11.3" fill="#FFD27A"/><circle cx="-5.5" cy="-5.8" r="7.6" fill="#FFEABF"/><circle cx="-5.2" cy="-5.8" r="3.9" fill="#FFFDF8"/></g>
<g transform="translate(1500 1799.1)"><circle r="19.9"/><circle cx="-5.5" cy="-5.8" r="11.3" fill="#FFD27A"/><circle cx="-5.5" cy="-5.8" r="7.6" fill="#FFEABF"/><circle cx="-5.2" cy="-5.8" r="3.9" fill="#FFFDF8"/></g>
</g>
</g>
<rect x="258" y="1601" width="752" height="302" fill="#000"/>
<rect x="252" y="1595" width="753" height="303" fill="#000"/>
<rect x="255" y="1597" width="748" height="298" fill="#fff"/>
<g fill="#FF6660">
<polyline points="264,1650 440.5,1650" fill="none" stroke="#FF6660" stroke-width="6" stroke-linejoin="round" stroke-linecap="round"/>
<rect x="334.8" y="1632.5" width="35" height="35"/>
</g>
<text x="459.8" y="1676.3" class="lg">Measured stress</text>
<g fill="#00BDAD">
<polyline points="264,1746.5 440.5,1746.5" fill="none" stroke="#00BDAD" stroke-width="7" stroke-linejoin="round" stroke-linecap="round"/>
<polygon points="352.3,1719.8 329.3,1759.8 375.3,1759.8"/>
</g>
<text x="459.8" y="1772.8" class="lg">Predicted stress</text>
<g fill="#FFAE00">
<polyline points="264,1843 440.5,1843" fill="none" stroke="#FFAE00" stroke-width="9.3" stroke-linejoin="round" stroke-linecap="round"/>
<g transform="translate(352.3 1843)"><circle r="19.9"/><circle cx="-5.5" cy="-5.8" r="11.3" fill="#FFD27A"/><circle cx="-5.5" cy="-5.8" r="7.6" fill="#FFEABF"/><circle cx="-5.2" cy="-5.8" r="3.9" fill="#FFFDF8"/></g>
</g>
<text x="459.8" y="1869.3" class="lg">Damage variable</text>
<g fill="#000">
<rect x="195" y="1565" width="9" height="1191"/>
<rect x="1672" y="1565" width="8" height="1191"/>
<rect x="195" y="1565" width="1485" height="8"/>
<rect x="195" y="2748" width="1485" height="8"/>
<rect x="442" y="2729" width="8" height="19"/>
<rect x="688" y="2729" width="8" height="19"/>
<rect x="934" y="2729" width="8" height="19"/>
<rect x="1180" y="2729" width="8" height="19"/>
<rect x="1426" y="2729" width="8" height="19"/>
<rect x="204" y="2533" width="19" height="8"/>
<rect x="204" y="2318" width="19" height="8"/>
<rect x="204" y="2103" width="19" height="8"/>
<rect x="204" y="1888" width="19" height="8"/>
<rect x="204" y="1673" width="19" height="8"/>
<rect x="1653" y="2512" width="19" height="8"/>
<rect x="1653" y="2275" width="19" height="8"/>
<rect x="1653" y="2038" width="19" height="8"/>
<rect x="1653" y="1802" width="19" height="8"/>
</g>
<g class="tk">
<text x="199.6" y="2837" text-anchor="middle">0</text>
<text x="446.3" y="2837" text-anchor="middle">2</text>
<text x="692.9" y="2837" text-anchor="middle">4</text>
<text x="939.6" y="2837" text-anchor="middle">6</text>
<text x="1186.3" y="2837" text-anchor="middle">8</text>
<text x="1434.9" y="2837" text-anchor="middle">10</text>
<text x="1681" y="2837" text-anchor="middle">12</text>
<text x="174.6" y="2777.4" text-anchor="end">0</text>
<text x="174.6" y="2561.7" text-anchor="end">10</text>
<text x="174.6" y="2345.9" text-anchor="end">20</text>
<text x="174.6" y="2130.2" text-anchor="end">30</text>
<text x="174.6" y="1914.4" text-anchor="end">40</text>
<text x="174.6" y="1698.7" text-anchor="end">50</text>
<text x="1703.8" y="2777.4">0.00</text>
<text x="1703.8" y="2539.7">0.08</text>
<text x="1703.8" y="2302.1">0.16</text>
<text x="1703.8" y="2064.4">0.24</text>
<text x="1703.8" y="1826.8">0.32</text>
<text x="1703.8" y="1589.1">0.40</text>
</g>
<text class="ytitle" transform="translate(75.3 2407.1) rotate(-90)"><tspan x="-3.4" y="0" font-size="78.2">(</tspan><tspan x="23" y="0" font-size="78.2" textLength="49.71" lengthAdjust="spacingAndGlyphs">σ</tspan><tspan x="69.7" y="20.5" font-size="52.4">1</tspan><tspan x="98.2" y="0" font-size="78.2">–</tspan><tspan x="138" y="0" font-size="78.2" textLength="49.71" lengthAdjust="spacingAndGlyphs">σ</tspan><tspan x="186.3" y="20.5" font-size="52.4">3</tspan><tspan x="211.8" y="0" font-size="78.2">)</tspan><tspan x="238.4" y="0" font-size="78.2">(</tspan><tspan x="264.6" y="0" font-size="78.2" textLength="66.06" lengthAdjust="spacingAndGlyphs">M</tspan><tspan x="328.9" y="0" font-size="78.2" textLength="46.10" lengthAdjust="spacingAndGlyphs">P</tspan><tspan x="378.1" y="0" font-size="78.2" textLength="36.10" lengthAdjust="spacingAndGlyphs">a</tspan><tspan x="412.7" y="0" font-size="78.2">)</tspan></text>
<g class="xtitle">
<text transform="translate(862.2 2896.4) skewX(-13) scale(1.1 1)" font-size="72" font-style="italic">ε</text>
<text><tspan x="902.2" y="2896.4" font-size="72">(</tspan><tspan x="923.2" y="2896.4" font-size="72">1</tspan><tspan x="956.3" y="2896.4" font-size="72">0</tspan><tspan x="993" y="2870.4" font-size="40">−</tspan><tspan x="1015.9" y="2864.4" font-size="40">3</tspan><tspan x="1043.8" y="2896.4" font-size="72">)</tspan></text>
</g>
<g class="rtitle" transform="translate(1906.9 2249.6) rotate(-90)"><text x="0.9" y="0" font-size="78.2" font-style="italic">D</text></g>
<text class="cap"><tspan x="503.6" y="3016.6" font-size="79">(</tspan><tspan x="528.3" y="3016.6" font-size="79" font-weight="bold" textLength="45.45" lengthAdjust="spacingAndGlyphs">b</tspan><tspan x="574.5" y="3016.6" font-size="79">) </tspan><tspan x="614.8" y="3016.6" font-size="79" textLength="806.83" lengthAdjust="spacingAndGlyphs">Seepage pressure 2 MPa</tspan></text>
</g>
<g id="chart-c">
<clipPath id="clip-c"><rect x="230" y="3087" width="1466" height="1178"/></clipPath>
<g clip-path="url(#clip-c)">
<g fill="#FF6660">
<polyline points="230.3,4264.6 285.9,4241.7 341.3,4213.9 396.6,4185.2 452,4152.9 507.4,4113.1 562.7,4071.4 618,4025.2 673.4,3978 728.8,3926.2 784.1,3877.2 839.5,3824.1 894.8,3771.4 950.2,3718.2 1005.5,3662.3 1060.8,3606.8 1116.2,3551.4 1171.5,3498.5 1226.9,3444.3 1282.2,3393.5 1337.6,3352.8 1393,3311 1448.3,3288.2 1476,3290 1484.5,3312 1485,3420 1489.5,3445 1488.5,3576" fill="none" stroke="#FF6660" stroke-width="9.2" stroke-linejoin="round" stroke-linecap="round"/>
<rect x="212.8" y="4247.1" width="35" height="35"/>
<rect x="268.4" y="4224.2" width="35" height="35"/>
<rect x="323.8" y="4196.4" width="35" height="35"/>
<rect x="379.1" y="4167.7" width="35" height="35"/>
<rect x="434.5" y="4135.4" width="35" height="35"/>
<rect x="489.9" y="4095.6" width="35" height="35"/>
<rect x="545.2" y="4053.9" width="35" height="35"/>
<rect x="600.5" y="4007.7" width="35" height="35"/>
<rect x="655.9" y="3960.5" width="35" height="35"/>
<rect x="711.2" y="3908.7" width="35" height="35"/>
<rect x="766.6" y="3859.7" width="35" height="35"/>
<rect x="822" y="3806.6" width="35" height="35"/>
<rect x="877.3" y="3753.9" width="35" height="35"/>
<rect x="932.7" y="3700.7" width="35" height="35"/>
<rect x="988" y="3644.8" width="35" height="35"/>
<rect x="1043.3" y="3589.3" width="35" height="35"/>
<rect x="1098.7" y="3533.9" width="35" height="35"/>
<rect x="1154" y="3481" width="35" height="35"/>
<rect x="1209.4" y="3426.8" width="35" height="35"/>
<rect x="1264.8" y="3376" width="35" height="35"/>
<rect x="1320.1" y="3335.3" width="35" height="35"/>
<rect x="1375.5" y="3293.5" width="35" height="35"/>
<rect x="1430.8" y="3270.7" width="35" height="35"/>
<rect x="1471" y="3558.5" width="35" height="35"/>
</g>
<g fill="#00BDAD">
<polyline points="230.3,4264.6 285.9,4213.9 341.3,4163.1 396.6,4113.1 452,4062.2 507.4,4010.4 562.7,3961.9 618,3911 673.4,3863.3 728.8,3812.6 784.1,3762.7 839.5,3712.2 894.8,3663.7 950.2,3614.7 1005.5,3564.2 1060.8,3515.4 1116.2,3466.6 1171.5,3419.4 1226.9,3373.6 1282.2,3330.6 1337.6,3308.6 1393,3279 1448.3,3256.5 1462.8,3254 1472,3268.8 1473.9,3309.5 1475.8,3439 1481.3,3476 1487,3540 1486.5,3586.7" fill="none" stroke="#00BDAD" stroke-width="9.2" stroke-linejoin="round" stroke-linecap="round"/>
<polygon points="230.3,4237.9 207.3,4277.9 253.3,4277.9"/>
<polygon points="285.9,4187.2 262.9,4227.2 308.9,4227.2"/>
<polygon points="341.3,4136.4 318.3,4176.4 364.3,4176.4"/>
<polygon points="396.6,4086.4 373.6,4126.4 419.6,4126.4"/>
<polygon points="452,4035.5 429,4075.5 475,4075.5"/>
<polygon points="507.4,3983.7 484.4,4023.7 530.4,4023.7"/>
<polygon points="562.7,3935.2 539.7,3975.2 585.7,3975.2"/>
<polygon points="618,3884.3 595,3924.3 641,3924.3"/>
<polygon points="673.4,3836.6 650.4,3876.6 696.4,3876.6"/>
<polygon points="728.8,3785.9 705.8,3825.9 751.8,3825.9"/>
<polygon points="784.1,3736 761.1,3776 807.1,3776"/>
<polygon points="839.5,3685.5 816.5,3725.5 862.5,3725.5"/>
<polygon points="894.8,3637 871.8,3677 917.8,3677"/>
<polygon points="950.2,3588 927.2,3628 973.2,3628"/>
<polygon points="1005.5,3537.5 982.5,3577.5 1028.5,3577.5"/>
<polygon points="1060.8,3488.7 1037.8,3528.7 1083.8,3528.7"/>
<polygon points="1116.2,3439.9 1093.2,3479.9 1139.2,3479.9"/>
<polygon points="1171.5,3392.7 1148.5,3432.7 1194.5,3432.7"/>
<polygon points="1226.9,3346.9 1203.9,3386.9 1249.9,3386.9"/>
<polygon points="1282.2,3303.9 1259.2,3343.9 1305.2,3343.9"/>
<polygon points="1337.6,3281.9 1314.6,3321.9 1360.6,3321.9"/>
<polygon points="1393,3252.3 1370,3292.3 1416,3292.3"/>
<polygon points="1448.3,3229.8 1425.3,3269.8 1471.3,3269.8"/>
<polygon points="1486.5,3560 1463.5,3600 1509.5,3600"/>
</g>
<g fill="#FFAE00">
<polyline points="230.3,4264.6 285.9,4262.3 341.3,4260 396.6,4255.7 452,4251.7 507.4,4245 562.7,4242.4 618,4235.7 673.4,4233 728.8,4229 784.1,4224 839.5,4218.4 894.8,4216.7 950.2,4212.4 1005.5,4210.7 1060.8,4207.4 1116.2,4203.4 1171.5,4191.4 1226.9,4185.7 1282.2,4174 1292,4165 1318,4148 1328,4135 1329,4120 1337.6,4108.3 1393,4069.7 1448.3,4022.4 1460.5,3992 1469.8,3945.6 1472,3899.4 1475.8,3830 1479.5,3592 1484.3,3530 1484.3,3312 1486.9,3284.7" fill="none" stroke="#FFAE00" stroke-width="9.4" stroke-linejoin="round" stroke-linecap="round"/>
<g transform="translate(230.3 4264.6)"><circle r="19.9"/><circle cx="-5.5" cy="-5.8" r="11.3" fill="#FFD27A"/><circle cx="-5.5" cy="-5.8" r="7.6" fill="#FFEABF"/><circle cx="-5.2" cy="-5.8" r="3.9" fill="#FFFDF8"/></g>
<g transform="translate(285.9 4262.3)"><circle r="19.9"/><circle cx="-5.5" cy="-5.8" r="11.3" fill="#FFD27A"/><circle cx="-5.5" cy="-5.8" r="7.6" fill="#FFEABF"/><circle cx="-5.2" cy="-5.8" r="3.9" fill="#FFFDF8"/></g>
<g transform="translate(341.3 4260)"><circle r="19.9"/><circle cx="-5.5" cy="-5.8" r="11.3" fill="#FFD27A"/><circle cx="-5.5" cy="-5.8" r="7.6" fill="#FFEABF"/><circle cx="-5.2" cy="-5.8" r="3.9" fill="#FFFDF8"/></g>
<g transform="translate(396.6 4255.7)"><circle r="19.9"/><circle cx="-5.5" cy="-5.8" r="11.3" fill="#FFD27A"/><circle cx="-5.5" cy="-5.8" r="7.6" fill="#FFEABF"/><circle cx="-5.2" cy="-5.8" r="3.9" fill="#FFFDF8"/></g>
<g transform="translate(452 4251.7)"><circle r="19.9"/><circle cx="-5.5" cy="-5.8" r="11.3" fill="#FFD27A"/><circle cx="-5.5" cy="-5.8" r="7.6" fill="#FFEABF"/><circle cx="-5.2" cy="-5.8" r="3.9" fill="#FFFDF8"/></g>
<g transform="translate(507.4 4245)"><circle r="19.9"/><circle cx="-5.5" cy="-5.8" r="11.3" fill="#FFD27A"/><circle cx="-5.5" cy="-5.8" r="7.6" fill="#FFEABF"/><circle cx="-5.2" cy="-5.8" r="3.9" fill="#FFFDF8"/></g>
<g transform="translate(562.7 4242.4)"><circle r="19.9"/><circle cx="-5.5" cy="-5.8" r="11.3" fill="#FFD27A"/><circle cx="-5.5" cy="-5.8" r="7.6" fill="#FFEABF"/><circle cx="-5.2" cy="-5.8" r="3.9" fill="#FFFDF8"/></g>
<g transform="translate(618 4235.7)"><circle r="19.9"/><circle cx="-5.5" cy="-5.8" r="11.3" fill="#FFD27A"/><circle cx="-5.5" cy="-5.8" r="7.6" fill="#FFEABF"/><circle cx="-5.2" cy="-5.8" r="3.9" fill="#FFFDF8"/></g>
<g transform="translate(673.4 4233)"><circle r="19.9"/><circle cx="-5.5" cy="-5.8" r="11.3" fill="#FFD27A"/><circle cx="-5.5" cy="-5.8" r="7.6" fill="#FFEABF"/><circle cx="-5.2" cy="-5.8" r="3.9" fill="#FFFDF8"/></g>
<g transform="translate(728.8 4229)"><circle r="19.9"/><circle cx="-5.5" cy="-5.8" r="11.3" fill="#FFD27A"/><circle cx="-5.5" cy="-5.8" r="7.6" fill="#FFEABF"/><circle cx="-5.2" cy="-5.8" r="3.9" fill="#FFFDF8"/></g>
<g transform="translate(784.1 4224)"><circle r="19.9"/><circle cx="-5.5" cy="-5.8" r="11.3" fill="#FFD27A"/><circle cx="-5.5" cy="-5.8" r="7.6" fill="#FFEABF"/><circle cx="-5.2" cy="-5.8" r="3.9" fill="#FFFDF8"/></g>
<g transform="translate(839.5 4218.4)"><circle r="19.9"/><circle cx="-5.5" cy="-5.8" r="11.3" fill="#FFD27A"/><circle cx="-5.5" cy="-5.8" r="7.6" fill="#FFEABF"/><circle cx="-5.2" cy="-5.8" r="3.9" fill="#FFFDF8"/></g>
<g transform="translate(894.8 4216.7)"><circle r="19.9"/><circle cx="-5.5" cy="-5.8" r="11.3" fill="#FFD27A"/><circle cx="-5.5" cy="-5.8" r="7.6" fill="#FFEABF"/><circle cx="-5.2" cy="-5.8" r="3.9" fill="#FFFDF8"/></g>
<g transform="translate(950.2 4212.4)"><circle r="19.9"/><circle cx="-5.5" cy="-5.8" r="11.3" fill="#FFD27A"/><circle cx="-5.5" cy="-5.8" r="7.6" fill="#FFEABF"/><circle cx="-5.2" cy="-5.8" r="3.9" fill="#FFFDF8"/></g>
<g transform="translate(1005.5 4210.7)"><circle r="19.9"/><circle cx="-5.5" cy="-5.8" r="11.3" fill="#FFD27A"/><circle cx="-5.5" cy="-5.8" r="7.6" fill="#FFEABF"/><circle cx="-5.2" cy="-5.8" r="3.9" fill="#FFFDF8"/></g>
<g transform="translate(1060.8 4207.4)"><circle r="19.9"/><circle cx="-5.5" cy="-5.8" r="11.3" fill="#FFD27A"/><circle cx="-5.5" cy="-5.8" r="7.6" fill="#FFEABF"/><circle cx="-5.2" cy="-5.8" r="3.9" fill="#FFFDF8"/></g>
<g transform="translate(1116.2 4203.4)"><circle r="19.9"/><circle cx="-5.5" cy="-5.8" r="11.3" fill="#FFD27A"/><circle cx="-5.5" cy="-5.8" r="7.6" fill="#FFEABF"/><circle cx="-5.2" cy="-5.8" r="3.9" fill="#FFFDF8"/></g>
<g transform="translate(1171.5 4191.4)"><circle r="19.9"/><circle cx="-5.5" cy="-5.8" r="11.3" fill="#FFD27A"/><circle cx="-5.5" cy="-5.8" r="7.6" fill="#FFEABF"/><circle cx="-5.2" cy="-5.8" r="3.9" fill="#FFFDF8"/></g>
<g transform="translate(1226.9 4185.7)"><circle r="19.9"/><circle cx="-5.5" cy="-5.8" r="11.3" fill="#FFD27A"/><circle cx="-5.5" cy="-5.8" r="7.6" fill="#FFEABF"/><circle cx="-5.2" cy="-5.8" r="3.9" fill="#FFFDF8"/></g>
<g transform="translate(1282.2 4174)"><circle r="19.9"/><circle cx="-5.5" cy="-5.8" r="11.3" fill="#FFD27A"/><circle cx="-5.5" cy="-5.8" r="7.6" fill="#FFEABF"/><circle cx="-5.2" cy="-5.8" r="3.9" fill="#FFFDF8"/></g>
<g transform="translate(1337.6 4108.3)"><circle r="19.9"/><circle cx="-5.5" cy="-5.8" r="11.3" fill="#FFD27A"/><circle cx="-5.5" cy="-5.8" r="7.6" fill="#FFEABF"/><circle cx="-5.2" cy="-5.8" r="3.9" fill="#FFFDF8"/></g>
<g transform="translate(1393 4069.7)"><circle r="19.9"/><circle cx="-5.5" cy="-5.8" r="11.3" fill="#FFD27A"/><circle cx="-5.5" cy="-5.8" r="7.6" fill="#FFEABF"/><circle cx="-5.2" cy="-5.8" r="3.9" fill="#FFFDF8"/></g>
<g transform="translate(1448.3 4022.4)"><circle r="19.9"/><circle cx="-5.5" cy="-5.8" r="11.3" fill="#FFD27A"/><circle cx="-5.5" cy="-5.8" r="7.6" fill="#FFEABF"/><circle cx="-5.2" cy="-5.8" r="3.9" fill="#FFFDF8"/></g>
<g transform="translate(1486.9 3284.7)"><circle r="19.9"/><circle cx="-5.5" cy="-5.8" r="11.3" fill="#FFD27A"/><circle cx="-5.5" cy="-5.8" r="7.6" fill="#FFEABF"/><circle cx="-5.2" cy="-5.8" r="3.9" fill="#FFFDF8"/></g>
</g>
</g>
<rect x="288" y="3116" width="746" height="300" fill="#000"/>
<rect x="282" y="3110" width="747" height="302" fill="#000"/>
<rect x="284" y="3112" width="743" height="297" fill="#fff"/>
<g fill="#FF6660">
<polyline points="293.5,3164.7 469,3164.7" fill="none" stroke="#FF6660" stroke-width="9.2" stroke-linejoin="round" stroke-linecap="round"/>
<rect x="363.1" y="3147.2" width="35" height="35"/>
</g>
<text x="487.5" y="3191" class="lg">Measured stress</text>
<g fill="#00BDAD">
<polyline points="293.5,3260.9 469,3260.9" fill="none" stroke="#00BDAD" stroke-width="9.2" stroke-linejoin="round" stroke-linecap="round"/>
<polygon points="380.6,3234.2 357.6,3274.2 403.6,3274.2"/>
</g>
<text x="487.5" y="3287.2" class="lg">Predicted stress</text>
<g fill="#FFAE00">
<polyline points="293.5,3356.7 469,3356.7" fill="none" stroke="#FFAE00" stroke-width="9.4" stroke-linejoin="round" stroke-linecap="round"/>
<g transform="translate(380.6 3356.7)"><circle r="19.9"/><circle cx="-5.5" cy="-5.8" r="11.3" fill="#FFD27A"/><circle cx="-5.5" cy="-5.8" r="7.6" fill="#FFEABF"/><circle cx="-5.2" cy="-5.8" r="3.9" fill="#FFFDF8"/></g>
</g>
<text x="487.5" y="3383" class="lg">Damage variable</text>
<g fill="#000">
<rect x="226" y="3083" width="8" height="1186"/>
<rect x="1692" y="3083" width="8" height="1186"/>
<rect x="226" y="3083" width="1474" height="8"/>
<rect x="226" y="4261" width="1474" height="8"/>
<rect x="493" y="4242" width="8" height="19"/>
<rect x="760" y="4242" width="8" height="19"/>
<rect x="1026" y="4242" width="8" height="19"/>
<rect x="1293" y="4242" width="8" height="19"/>
<rect x="1559" y="4242" width="8" height="19"/>
<rect x="234" y="4025" width="19" height="8"/>
<rect x="234" y="3790" width="19" height="8"/>
<rect x="234" y="3554" width="19" height="8"/>
<rect x="234" y="3319" width="19" height="8"/>
<rect x="1673" y="4025" width="19" height="8"/>
<rect x="1673" y="3790" width="19" height="8"/>
<rect x="1673" y="3554" width="19" height="8"/>
<rect x="1673" y="3319" width="19" height="8"/>
</g>
<g class="tk">
<text x="230" y="4350" text-anchor="middle">0</text>
<text x="497.1" y="4350" text-anchor="middle">2</text>
<text x="764.3" y="4350" text-anchor="middle">4</text>
<text x="1031.4" y="4350" text-anchor="middle">6</text>
<text x="1298.6" y="4350" text-anchor="middle">8</text>
<text x="1567.7" y="4350" text-anchor="middle">10</text>
<text x="205" y="4290.4" text-anchor="end">0</text>
<text x="205" y="4054.1" text-anchor="end">10</text>
<text x="205" y="3817.8" text-anchor="end">20</text>
<text x="205" y="3581.4" text-anchor="end">30</text>
<text x="205" y="3345.1" text-anchor="end">40</text>
<text x="205" y="3108.8" text-anchor="end">50</text>
<text x="1723.8" y="4290.4">0.0</text>
<text x="1723.8" y="4054.1">0.1</text>
<text x="1723.8" y="3817.8">0.2</text>
<text x="1723.8" y="3581.4">0.3</text>
<text x="1723.8" y="3345.1">0.4</text>
<text x="1723.8" y="3108.8">0.5</text>
</g>
<text class="ytitle" transform="translate(107.6 3929.8) rotate(-90)"><tspan x="-3.4" y="0" font-size="78.2">(</tspan><tspan x="23" y="0" font-size="78.2" textLength="49.71" lengthAdjust="spacingAndGlyphs">σ</tspan><tspan x="69.7" y="20.5" font-size="52.4">1</tspan><tspan x="98.2" y="0" font-size="78.2">–</tspan><tspan x="138" y="0" font-size="78.2" textLength="49.71" lengthAdjust="spacingAndGlyphs">σ</tspan><tspan x="186.3" y="20.5" font-size="52.4">3</tspan><tspan x="211.8" y="0" font-size="78.2">)</tspan><tspan x="238.4" y="0" font-size="78.2">(</tspan><tspan x="264.6" y="0" font-size="78.2" textLength="66.06" lengthAdjust="spacingAndGlyphs">M</tspan><tspan x="328.9" y="0" font-size="78.2" textLength="46.10" lengthAdjust="spacingAndGlyphs">P</tspan><tspan x="378.1" y="0" font-size="78.2" textLength="36.10" lengthAdjust="spacingAndGlyphs">a</tspan><tspan x="412.7" y="0" font-size="78.2">)</tspan></text>
<g class="xtitle">
<text transform="translate(922.2 4417.1) skewX(-13) scale(1.1 1)" font-size="72" font-style="italic">ε</text>
<text><tspan x="961.7" y="4417.1" font-size="72">(</tspan><tspan x="982.6" y="4417.1" font-size="72">1</tspan><tspan x="1015" y="4417.1" font-size="72">0</tspan><tspan x="1051.6" y="4391.1" font-size="40">−</tspan><tspan x="1074.4" y="4385.1" font-size="40">3</tspan><tspan x="1100.9" y="4417.1" font-size="72">)</tspan></text>
</g>
<g class="rtitle" transform="translate(1875.1 3721.9) rotate(-90)"><text x="0.9" y="0" font-size="78.2" font-style="italic">D</text></g>
<text class="cap"><tspan x="509.8" y="4536.5" font-size="79">(</tspan><tspan x="534.8" y="4536.5" font-size="79" font-weight="bold" textLength="32.53" lengthAdjust="spacingAndGlyphs">c</tspan><tspan x="567.4" y="4536.5" font-size="79">) </tspan><tspan x="607.7" y="4536.5" font-size="79" textLength="807.23" lengthAdjust="spacingAndGlyphs">Seepage pressure 3 MPa</tspan></text>
</g>
</svg>
</body>
</html>
